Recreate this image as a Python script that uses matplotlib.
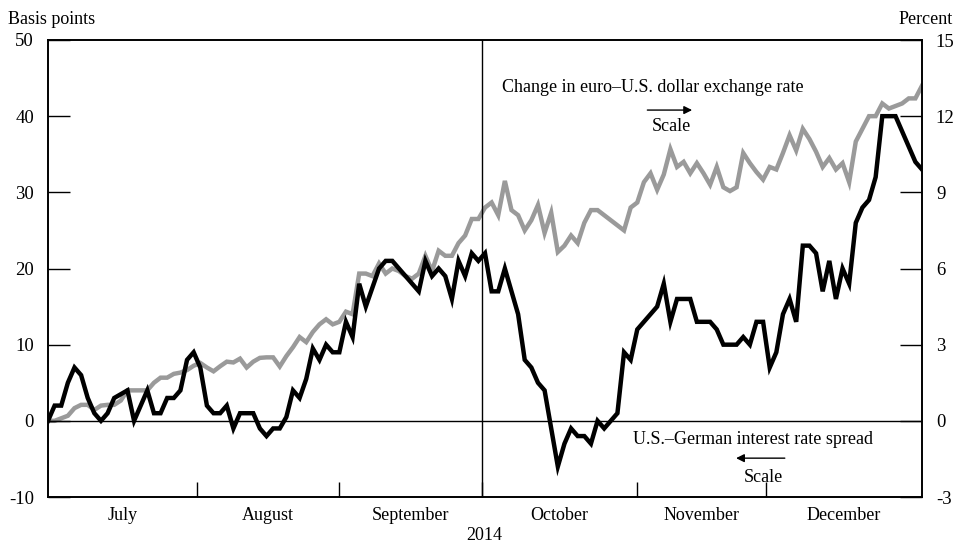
import matplotlib
matplotlib.use("Agg")
import matplotlib.pyplot as plt
import numpy as np

plt.rcParams['font.family'] = ['Liberation Serif', 'DejaVu Serif']

# U.S.-German interest rate spread, basis points (daily, Jul-Dec 2014)
spread_bp = [
    0, 2, 2, 5, 7, 6, 3, 1, 0, 1, 3, 3.5, 4, 0, 2, 4, 1, 1, 3, 3, 4, 8, 9,
    7, 2, 1, 1, 2, -1, 1, 1, 1, -1, -2, -1, -1, 0.5, 4, 3, 5.5, 9.5, 8, 10, 9,
    9, 13, 11, 18, 15, 17.5, 20, 21, 21, 20, 19, 18, 17, 21, 19, 20, 19, 16, 21, 19, 22, 21,
    22, 17, 17, 20, 17, 14, 8, 7, 5, 4, -1, -6, -3, -1, -2, -2, -3, 0, -1, 0, 1, 9, 8,
    12, 13, 14, 15, 18, 13, 16, 16, 16, 13, 13, 13, 12, 10, 10, 10, 11, 10, 13, 13,
    7, 9, 14, 16, 13, 23, 23, 22, 17, 21, 16, 20, 18, 26, 28, 29, 32, 40, 40, 40, 38, 36, 34, 33,
]

# Change in euro-U.S. dollar exchange rate, percent
fx_pct = [
    0, 0, 0.1, 0.2, 0.5, 0.63, 0.63, 0.43, 0.6, 0.63, 0.63, 0.8, 1.2, 1.2, 1.2, 1.2, 1.5, 1.7, 1.7, 1.85, 1.9, 2.0, 2.17,
    2.28, 2.1, 1.95, 2.15, 2.33, 2.3, 2.45, 2.1, 2.33, 2.48, 2.5, 2.5, 2.14, 2.55, 2.9, 3.3, 3.1, 3.5, 3.8, 4.0, 3.8,
    3.9, 4.3, 4.2, 5.8, 5.8, 5.7, 6.2, 5.8, 6.0, 5.9, 5.7, 5.6, 5.8, 6.5, 5.9, 6.7, 6.5, 6.5, 7.0, 7.3, 7.95, 7.95,
    8.4, 8.6, 8.1, 9.45, 8.3, 8.1, 7.5, 7.9, 8.5, 7.4, 8.2, 6.65, 6.9, 7.3, 7.0, 7.8, 8.3, 8.3, 8.1, 7.9, 7.7, 7.5, 8.4,
    8.6, 9.4, 9.75, 9.1, 9.7, 10.7, 10.0, 10.2, 9.75, 10.15, 9.75, 9.3, 10.0, 9.2, 9.05, 9.2, 10.55, 10.15, 9.8, 9.5,
    10.0, 9.9, 10.55, 11.25, 10.65, 11.5, 11.1, 10.6, 10.0, 10.35, 9.9, 10.15, 9.4, 11.0, 11.5, 12.0, 12.0, 12.5, 12.3,
    12.4, 12.5, 12.7, 12.7, 13.2,
]

months = ["July", "August", "September", "October", "November", "December"]
year_label = "2014"
# month boundaries in trading-day index
month_bounds = [0, 22.5, 44.0, 65.5, 89.0, 108.5, 132]
left_ticks = [-10, 0, 10, 20, 30, 40, 50]
right_ticks = [-3, 0, 3, 6, 9, 12, 15]

x_sp = np.arange(len(spread_bp))
x_fx = np.arange(len(fx_pct))

fig = plt.figure(figsize=(9.58, 5.46), dpi=100)
ax = fig.add_axes([48 / 958, 1 - 497 / 546, 874 / 958, 457 / 546])
ax2 = ax.twinx()

ax.set_xlim(0, 132)
ax.set_ylim(-10, 50)
ax2.set_ylim(-3, 15)

ax.axhline(0, color='black', lw=1.0, zorder=1)
ax.axvline(month_bounds[3], color='black', lw=1.0, zorder=1)

ax2.plot(x_fx, fx_pct, color='#9a9a9a', lw=3.2, solid_joinstyle='miter', zorder=2)
ax.set_zorder(ax2.get_zorder() + 1)
ax.patch.set_visible(False)
ax.plot(x_sp, spread_bp, color='black', lw=3.2, solid_joinstyle='miter', zorder=3)

for a in (ax, ax2):
    for s in a.spines.values():
        s.set_linewidth(1.2)
        s.set_color('black')

ax.set_yticks(left_ticks)
ax.set_yticklabels([str(t) for t in left_ticks])
ax2.set_yticks(right_ticks)
ax2.set_yticklabels([str(t) for t in right_ticks])
ax.tick_params(axis='y', direction='in', length=16, width=1.0, labelsize=13.5, pad=10)
ax2.tick_params(axis='y', direction='in', length=16, width=1.0, labelsize=13.5, pad=10)

ax.set_xticks(month_bounds[1:-1])
ax.set_xticklabels([])
ax.set_xticks([(month_bounds[i] + month_bounds[i + 1]) / 2 for i in range(6)], minor=True)
ax.set_xticklabels(months, minor=True)
ax.tick_params(axis='x', which='major', direction='in', length=11, width=1.0)
ax.tick_params(axis='x', which='minor', length=0, labelsize=13, pad=7)

fig.text(8 / 958, 1 - 19 / 546, "Basis points", fontsize=13, ha='left', va='center')
fig.text(953 / 958, 1 - 19 / 546, "Percent", fontsize=13, ha='right', va='center')
fig.text(484 / 958, 1 - 536 / 546, year_label, fontsize=13, ha='center', va='center')

ax.text(91.4, 43.8, "Change in euro\u2013U.S. dollar exchange rate", fontsize=13,
        ha='center', va='center')
ax.annotate("", xy=(97.7, 40.8), xytext=(90.1, 40.8),
            arrowprops=dict(arrowstyle='-|>', color='black', lw=1.0, mutation_scale=12))
ax.text(94.1, 38.6, "Scale", fontsize=13, ha='center', va='center')

ax.text(106.5, -2.5, "U.S.\u2013German interest rate spread", fontsize=13,
        ha='center', va='center')
ax.annotate("", xy=(103.5, -4.9), xytext=(111.7, -4.9),
            arrowprops=dict(arrowstyle='-|>', color='black', lw=1.0, mutation_scale=12))
ax.text(108, -7.4, "Scale", fontsize=13, ha='center', va='center')

fig.savefig("out.png", dpi=100)
